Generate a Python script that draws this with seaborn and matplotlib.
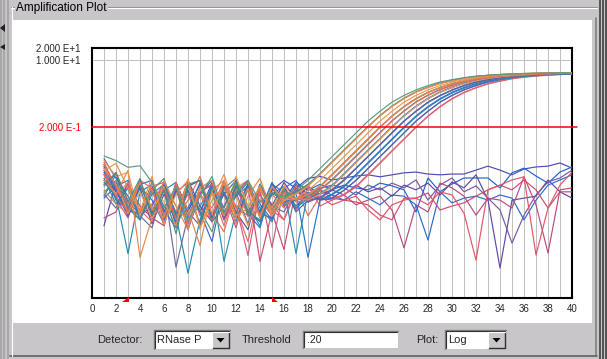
import numpy as np
import pandas as pd
import matplotlib
matplotlib.use("Agg")
import matplotlib.pyplot as plt
import seaborn as sns
from matplotlib.patches import Rectangle, Polygon
from matplotlib.lines import Line2D
from matplotlib.ticker import NullLocator, FixedLocator

# ---------------- data: log10(delta Rn) per cycle (cycles 1..40) ----------------
amp_01 = [-1.43, -1.55, -1.72, -1.68, -2.10, -2.75, -2.20, -3.10, -2.45, -1.95, -2.90, -2.35, -2.05, -2.60,
          -2.35, -2.50, -2.30, -2.05, -1.75, -1.45, -1.15, -0.85, -0.55, -0.30, -0.07, 0.10, 0.24, 0.35,
          0.44, 0.50, 0.55, 0.59, 0.61, 0.63, 0.645, 0.655, 0.66, 0.665, 0.67, 0.67]
amp_02 = [-1.80, -1.62, -2.25, -2.85, -1.95, -3.15, -2.40, -2.05, -3.25, -2.55, -1.90, -2.80, -2.25, -3.00, -2.20,
          -2.55, -2.40, -2.20, -1.90, -1.60, -1.30, -1.00, -0.70, -0.42, -0.18, 0.02, 0.18, 0.30, 0.40, 0.47,
          0.53, 0.57, 0.60, 0.62, 0.64, 0.65, 0.66, 0.665, 0.67, 0.675]
amp_03 = [-2.20, -1.85, -2.60, -2.00, -2.95, -2.30, -3.40, -2.15, -2.05, -3.10, -2.70, -2.10, -2.85, -3.05, -2.40,
          -2.45, -2.35, -2.15, -1.88, -1.58, -1.28, -0.98, -0.69, -0.41, -0.17, 0.03, 0.19, 0.31, 0.41, 0.48,
          0.54, 0.58, 0.61, 0.63, 0.645, 0.655, 0.66, 0.665, 0.67, 0.67]
amp_04 = [-1.55, -1.95, -1.85, -2.95, -2.15, -2.60, -3.20, -2.00, -3.30, -2.35, -2.95, -1.95, -2.70, -2.20, -2.95,
          -2.55, -2.50, -2.30, -2.05, -1.75, -1.45, -1.15, -0.85, -0.55, -0.30, -0.07, 0.10, 0.24, 0.35, 0.44,
          0.50, 0.55, 0.59, 0.61, 0.63, 0.645, 0.655, 0.66, 0.665, 0.67]
amp_05 = [-2.05, -2.40, -1.80, -4.00, -3.00, -2.05, -2.70, -3.30, -2.20, -2.90, -2.10, -3.15, -2.45, -2.00, -2.85,
          -2.40, -2.55, -2.40, -2.20, -1.90, -1.60, -1.30, -1.00, -0.70, -0.42, -0.18, 0.02, 0.18, 0.30, 0.40,
          0.47, 0.53, 0.57, 0.60, 0.62, 0.64, 0.65, 0.66, 0.665, 0.67]
amp_06 = [-1.65, -2.20, -2.65, -2.10, -2.80, -2.25, -3.05, -2.55, -1.95, -2.90, -3.35, -2.30, -2.10, -2.95, -2.20,
          -2.65, -2.50, -2.42, -2.22, -1.92, -1.62, -1.32, -1.02, -0.71, -0.43, -0.19, 0.01, 0.17, 0.29, 0.39,
          0.46, 0.52, 0.56, 0.59, 0.61, 0.63, 0.64, 0.65, 0.655, 0.66]
amp_07 = [-1.90, -2.45, -2.85, -2.05, -2.25, -3.20, -2.10, -2.95, -2.40, -3.10, -2.05, -2.75, -3.60, -2.25, -2.85,
          -2.35, -2.55, -2.50, -2.30, -2.05, -1.75, -1.45, -1.15, -0.85, -0.55, -0.30, -0.07, 0.10, 0.24, 0.35,
          0.44, 0.50, 0.55, 0.59, 0.61, 0.63, 0.645, 0.655, 0.66, 0.665]
amp_08 = [-2.35, -2.05, -2.70, -3.05, -2.30, -2.00, -2.95, -2.20, -2.80, -3.35, -2.25, -2.00, -2.95, -2.15, -2.80,
          -2.30, -2.50, -2.45, -2.28, -2.03, -1.73, -1.43, -1.13, -0.84, -0.54, -0.29, -0.06, 0.11, 0.25, 0.36,
          0.45, 0.51, 0.56, 0.60, 0.62, 0.64, 0.65, 0.66, 0.665, 0.67]
amp_09 = [-1.70, -2.30, -2.95, -2.15, -2.05, -2.80, -3.25, -2.20, -2.05, -2.95, -2.35, -3.10, -2.20, -2.85, -2.10,
          -2.65, -2.30, -2.55, -2.40, -2.20, -1.90, -1.60, -1.30, -1.00, -0.70, -0.42, -0.18, 0.02, 0.18, 0.30,
          0.40, 0.47, 0.53, 0.57, 0.60, 0.62, 0.64, 0.65, 0.66, 0.665]
amp_10 = [-2.10, -2.45, -3.90, -2.35, -2.15, -2.70, -2.95, -4.40, -3.05, -2.25, -2.90, -2.20, -2.70, -3.20, -2.15,
          -2.35, -2.75, -2.50, -2.38, -2.18, -1.88, -1.58, -1.28, -0.99, -0.69, -0.41, -0.17, 0.03, 0.19, 0.31,
          0.41, 0.48, 0.54, 0.58, 0.61, 0.63, 0.645, 0.655, 0.66, 0.665]
amp_11 = [-1.50, -2.00, -2.45, -2.90, -2.15, -3.05, -2.35, -2.10, -2.85, -3.60, -2.20, -2.80, -2.15, -2.95, -2.40,
          -2.20, -2.85, -2.55, -2.50, -2.30, -2.05, -1.75, -1.45, -1.15, -0.85, -0.55, -0.30, -0.07, 0.10, 0.24,
          0.35, 0.44, 0.50, 0.55, 0.59, 0.61, 0.63, 0.645, 0.655, 0.66]
amp_12 = [-2.40, -2.75, -2.10, -2.95, -3.25, -2.20, -4.25, -2.95, -2.25, -2.05, -2.85, -2.35, -3.15, -2.15, -2.70,
          -2.85, -2.25, -2.60, -2.48, -2.28, -2.03, -1.74, -1.44, -1.14, -0.84, -0.55, -0.30, -0.08, 0.09, 0.23,
          0.34, 0.43, 0.49, 0.54, 0.58, 0.60, 0.62, 0.635, 0.645, 0.65]
amp_13 = [-1.85, -2.55, -2.80, -2.05, -2.90, -2.25, -3.10, -2.75, -2.15, -2.95, -2.40, -2.05, -2.90, -3.25, -2.20,
          -2.70, -2.35, -4.00, -2.55, -2.40, -2.20, -1.90, -1.60, -1.30, -1.00, -0.70, -0.42, -0.18, 0.02, 0.18,
          0.30, 0.40, 0.47, 0.53, 0.57, 0.60, 0.62, 0.64, 0.65, 0.66]
amp_14 = [-2.45, -1.90, -2.75, -2.15, -2.95, -2.30, -2.10, -3.00, -2.70, -2.20, -4.10, -2.85, -2.15, -2.75, -3.10,
          -2.25, -3.90, -2.35, -2.55, -2.42, -2.22, -1.92, -1.62, -1.32, -1.02, -0.72, -0.44, -0.20, 0.00, 0.16,
          0.28, 0.38, 0.45, 0.51, 0.55, 0.58, 0.60, 0.62, 0.63, 0.64]
amp_15 = [-1.60, -2.25, -2.70, -2.95, -2.10, -2.90, -2.25, -3.15, -2.35, -2.15, -2.90, -2.70, -3.95, -2.30, -3.75,
          -2.20, -2.80, -2.35, -2.55, -2.50, -2.30, -2.05, -1.75, -1.45, -1.15, -0.85, -0.55, -0.30, -0.07, 0.10,
          0.24, 0.35, 0.44, 0.50, 0.55, 0.59, 0.61, 0.63, 0.645, 0.655]
amp_16 = [-1.75, -2.50, -2.20, -2.95, -2.65, -2.10, -3.05, -2.30, -2.85, -3.00, -2.15, -2.70, -2.95, -2.20, -2.80,
          -3.05, -2.35, -2.15, -2.70, -2.55, -2.40, -2.20, -1.90, -1.60, -1.30, -1.00, -0.70, -0.42, -0.18, 0.02,
          0.18, 0.30, 0.40, 0.47, 0.53, 0.57, 0.60, 0.62, 0.64, 0.65]
amp_17 = [-2.15, -1.85, -2.55, -2.80, -3.10, -2.20, -2.85, -2.10, -2.95, -2.35, -3.20, -2.25, -2.05, -2.90, -2.40,
          -2.75, -2.20, -2.95, -2.45, -2.50, -2.42, -2.22, -1.92, -1.62, -1.31, -1.01, -0.71, -0.43, -0.19, 0.01,
          0.17, 0.29, 0.39, 0.46, 0.52, 0.56, 0.59, 0.61, 0.63, 0.64]
amp_18 = [-2.30, -2.65, -2.90, -2.10, -2.75, -3.00, -2.20, -2.80, -3.70, -2.30, -2.05, -2.95, -2.75, -2.25, -2.85,
          -2.50, -2.38, -2.18, -1.89, -1.59, -1.29, -0.99, -0.69, -0.41, -0.17, 0.03, 0.19, 0.31, 0.41, 0.48,
          0.54, 0.58, 0.61, 0.63, 0.645, 0.655, 0.665, 0.67, 0.675, 0.68]
amp_19 = [-2.00, -2.65, -2.25, -3.05, -2.40, -2.15, -2.90, -2.30, -3.15, -2.25, -2.85, -2.45, -2.10, -3.00, -2.35,
          -2.60, -2.55, -2.40, -2.20, -1.90, -1.60, -1.30, -1.00, -0.70, -0.42, -0.18, 0.02, 0.18, 0.30, 0.40,
          0.47, 0.53, 0.57, 0.60, 0.62, 0.64, 0.65, 0.66, 0.665, 0.67]
amp_20 = [-1.75, -2.15, -2.85, -2.35, -3.00, -2.20, -2.70, -3.10, -2.25, -2.05, -2.90, -2.45, -3.20, -2.30, -2.75,
          -2.20, -2.50, -2.55, -2.40, -2.20, -1.90, -1.60, -1.30, -1.00, -0.70, -0.42, -0.18, 0.02, 0.18, 0.30,
          0.40, 0.47, 0.53, 0.57, 0.60, 0.62, 0.64, 0.65, 0.66, 0.67]
amp_21 = [-2.05, -2.30, -2.95, -2.20, -2.55, -3.15, -2.25, -2.85, -2.10, -3.00, -2.35, -2.90, -2.20, -2.65, -3.05,
          -2.25, -2.70, -2.40, -2.55, -2.50, -2.30, -2.05, -1.75, -1.45, -1.15, -0.85, -0.55, -0.30, -0.07, 0.10,
          0.24, 0.35, 0.44, 0.50, 0.55, 0.59, 0.61, 0.63, 0.645, 0.655]
amp_22 = [-1.90, -2.45, -2.10, -2.80, -2.35, -2.95, -2.15, -3.25, -2.40, -2.75, -2.05, -3.00, -2.30, -2.55, -2.95,
          -2.25, -2.60, -2.55, -2.50, -2.30, -2.05, -1.75, -1.45, -1.15, -0.85, -0.55, -0.30, -0.07, 0.10, 0.24,
          0.35, 0.44, 0.50, 0.55, 0.59, 0.61, 0.63, 0.645, 0.655, 0.66]

neg_01 = [-1.80, -2.35, -2.80, -2.10, -2.95, -2.30, -3.10, -2.15, -2.85, -2.25, -3.00, -2.40, -2.05, -2.90, -2.30,
          -2.05, -2.25, -2.00, -1.95, -2.04, -1.99, -1.94, -1.91, -1.96, -1.91, -1.86, -1.84, -1.89, -1.91, -1.89,
          -1.89, -1.79, -1.69, -1.79, -1.91, -1.76, -1.71, -1.69, -1.61, -1.74]
neg_02 = [-2.15, -1.90, -2.75, -3.05, -2.20, -2.85, -2.25, -3.30, -2.40, -2.05, -2.95, -2.20, -2.80, -3.10, -2.15,
          -2.55, -2.10, -2.30, -2.15, -2.29, -2.17, -2.24, -2.29, -2.12, -2.19, -2.29, -2.85, -1.99, -2.34, -2.14,
          -1.99, -1.99, -1.99, -2.24, -1.86, -1.74, -1.94, -2.12, -1.84, -1.71]
neg_03 = [-2.50, -2.20, -2.05, -2.95, -2.70, -2.15, -3.20, -2.30, -2.85, -2.10, -3.05, -2.45, -2.20, -2.90, -3.00,
          -2.25, -2.05, -2.60, -2.30, -2.42, -2.55, -2.34, -2.50, -2.67, -2.42, -2.45, -2.67, -3.56, -2.34, -2.62,
          -2.50, -2.45, -2.55, -2.42, -2.50, -3.05, -2.55, -2.17, -2.04, -1.91]
neg_04 = [-3.20, -2.10, -2.85, -2.25, -3.15, -2.40, -2.95, -2.05, -2.70, -3.10, -2.20, -2.85, -3.30, -2.15, -2.70,
          -2.10, -2.55, -2.20, -2.40, -2.29, -2.42, -2.17, -2.34, -2.24, -2.45, -2.17, -2.29, -2.12, -2.42, -2.09,
          -2.24, -1.91, -2.55, -4.27, -2.55, -2.50, -2.45, -2.04, -2.34, -2.50]
neg_05 = [-1.65, -2.20, -2.60, -2.90, -2.15, -3.05, -2.30, -2.85, -3.20, -2.15, -2.75, -2.05, -2.95, -2.80, -2.25,
          -2.65, -2.15, -2.40, -2.25, -2.17, -2.24, -2.42, -2.17, -2.29, -2.12, -2.24, -2.04, -2.55, -2.17, -1.99,
          -2.34, -2.19, -2.50, -2.80, -3.64, -2.93, -2.42, -2.09, -1.99, -1.79]
neg_06 = [-1.90, -2.50, -3.00, -2.15, -2.85, -2.30, -3.10, -2.20, -2.05, -2.95, -2.40, -3.25, -2.20, -4.10, -2.85,
          -3.80, -2.25, -2.55, -2.30, -2.50, -2.55, -2.60, -2.67, -2.93, -3.05, -2.50, -2.50, -2.37, -2.80, -2.70,
          -2.62, -2.45, -2.29, -2.17, -2.29, -2.04, -2.29, -2.75, -2.34, -2.34]
neg_07 = [-3.00, -2.85, -2.15, -2.70, -3.00, -3.20, -2.10, -2.80, -2.35, -2.15, -3.05, -2.25, -2.85, -2.40, -2.95,
          -2.20, -2.80, -2.25, -2.50, -2.55, -2.42, -2.67, -2.55, -2.45, -2.80, -3.76, -2.67, -2.85, -2.12, -2.24,
          -2.45, -2.93, -2.50, -2.55, -2.75, -1.96, -2.67, -3.89, -2.29, -2.24]
neg_08 = [-1.70, -2.30, -2.75, -2.95, -2.20, -2.10, -2.95, -2.40, -3.15, -2.25, -2.90, -2.15, -2.95, -2.30, -2.65,
          -3.05, -2.20, -2.60, -2.45, -2.67, -2.55, -2.45, -2.80, -3.05, -2.67, -2.55, -2.50, -2.67, -2.34, -2.42,
          -2.88, -4.07, -2.29, -2.17, -2.04, -1.96, -3.94, -2.75, -2.17, -1.84]

series = {
    "n1": (neg_01, "#4a4eb0"), "n2": (neg_02, "#1e64d2"), "n3": (neg_03, "#2a6ad0"),
    "n4": (neg_04, "#6048a0"), "n5": (neg_05, "#7a56a6"), "n6": (neg_06, "#d04a6c"),
    "n7": (neg_07, "#b84a7e"), "n8": (neg_08, "#e45464"),
    "a17": (amp_17, "#e46a64"), "a16": (amp_16, "#e0607a"), "a15": (amp_15, "#d5567a"),
    "a21": (amp_21, "#3468c4"), "a14": (amp_14, "#2090b4"), "a13": (amp_13, "#2d70c8"),
    "a12": (amp_12, "#6c6a9e"), "a22": (amp_22, "#e47460"), "a11": (amp_11, "#3a66c0"),
    "a10": (amp_10, "#1f8ab0"), "a09": (amp_09, "#2f6fc8"), "a20": (amp_20, "#e69a5a"),
    "a08": (amp_08, "#5a9080"), "a07": (amp_07, "#e0685e"), "a19": (amp_19, "#2a86a8"),
    "a06": (amp_06, "#e2705c"), "a05": (amp_05, "#e48848"), "a04": (amp_04, "#ec9650"),
    "a18": (amp_18, "#d88a52"), "a03": (amp_03, "#4e8a7c"), "a02": (amp_02, "#e8904a"),
    "a01": (amp_01, "#5b9a84"),
}
threshold = 0.2
baseline_start, baseline_end = 3, 15
ytick_vals = [20, 10, 0.2]
ytick_labels = ["2.000 E+1", "1.000 E+1", "2.000 E-1"]
xtick_vals = list(range(0, 41, 2))

rows = []
for name, (vals, col) in series.items():
    for i, v in enumerate(vals):
        rows.append({"cycle": i + 1, "dRn": 10 ** v, "well": name})
df = pd.DataFrame(rows)
pal = {k: c for k, (v, c) in series.items()}

# ---------------- figure ----------------
sns.set_style("white")
plt.rcParams["font.family"] = ["Liberation Sans", "DejaVu Sans"]

W, H = 607, 359
GREY = "#c8c6c8"
fig = plt.figure(figsize=(W / 100, H / 100), dpi=100, facecolor=GREY)


def rect(x0, y0, x1, y1, fc, ec="none", lw=0.0, z=1):
    fig.patches.append(Rectangle((x0 / W, 1 - y1 / H), (x1 - x0) / W, (y1 - y0) / H,
                                 transform=fig.transFigure, fc=fc, ec=ec, lw=lw, zorder=z))


def line(x0, y0, x1, y1, c, lw=1.0, z=2):
    fig.lines.append(Line2D([x0 / W, x1 / W], [1 - y0 / H, 1 - y1 / H], transform=fig.transFigure,
                            color=c, lw=lw, zorder=z))


def poly(pts, c, z=3):
    fig.patches.append(Polygon([(x / W, 1 - y / H) for x, y in pts], closed=True,
                               transform=fig.transFigure, fc=c, ec="none", zorder=z))


# window frame pieces
for xx, cc in [(1, "#a8a6a8"), (4, "#a8a6a8"), (8, "#a8a6a8")]:
    line(xx, 0, xx, H, cc, lw=1.5)
line(596, 18, 596, 356, "#808080", lw=1.2)
for xx in [599.5, 603, 606]:
    line(xx, 0, xx, H, "#404040", lw=1.2)
line(10, 356, 597, 356, "#606060", lw=1.2)
# group box etched line
line(11, 6.5, 597, 6.5, "#909090", lw=0.8)
line(11, 7.5, 597, 7.5, "white", lw=0.8)
line(11.5, 7, 11.5, 356, "white", lw=0.8)
# left arrows
poly([(0, 28), (5, 24), (5, 32)], "#202020")
poly([(0, 47), (5, 44), (5, 50)], "#202020")

# white plot panel
rect(13, 20, 592, 323, "white", z=1)

fig.text(16 / W, 1 - 8 / H, "Amplification Plot", fontsize=8.5, va="center", ha="left",
         color="black", bbox=dict(fc=GREY, ec="none", pad=1.0), zorder=5)

# axes
ax = fig.add_axes([92 / W, 1 - 298 / H, 480 / W, 250 / H])
ax.set_zorder(10)
ax.set_facecolor("white")
sns.lineplot(data=df, x="cycle", y="dRn", hue="well", palette=pal, estimator=None,
             legend=False, lw=0.85, ax=ax, zorder=3)
ax.set_yscale("log")
ax.set_xlim(0, 40)
ax.set_ylim(10 ** (np.log10(20) - 250 / 39.5), 20)
ax.set_xlabel("")
ax.set_ylabel("")

ax.xaxis.set_major_locator(FixedLocator(xtick_vals))
ax.xaxis.set_minor_locator(FixedLocator(list(range(0, 41))))
ax.grid(which="both", axis="x", color="#c0c0c0", lw=0.72, zorder=0)
ax.set_axisbelow(True)
ax.axhline(10, color="#c0c0c0", lw=0.72, zorder=0.5)
ax.set_xticklabels([str(v) for v in xtick_vals])
ax.tick_params(axis="x", which="both", length=0, pad=4, labelsize=7)

ax.yaxis.set_major_locator(FixedLocator(ytick_vals))
ax.yaxis.set_minor_locator(NullLocator())
ax.set_yticklabels(ytick_labels)
ax.tick_params(axis="y", which="major", length=6, width=1.0, direction="out", pad=2, labelsize=7)
ax.get_yticklabels()[2].set_color("#ff0000")
ax.yaxis.get_major_ticks()[2].tick1line.set_color("#ff0000")

ax.plot([0, 40.45], [threshold, threshold], color="#ff0000", lw=1.1,
        clip_on=False, zorder=4)

for s in ax.spines.values():
    s.set_color("black")
    s.set_linewidth(1.5)
    s.set_visible(True)

# baseline markers (figure pixel coords from data x)
def xpix(c):
    return 92 + c * 12

bs = xpix(baseline_start)
be = xpix(baseline_end)
poly([(bs - 6, 302), (bs + 0.5, 302), (bs + 0.5, 297)], "#ff0000", z=12)
poly([(be - 0.5, 297), (be - 0.5, 302), (be + 6, 302)], "#ff0000", z=12)

# ---------------- bottom controls ----------------
def sunken(x0, y0, x1, y1):
    rect(x0, y0, x1, y1, "white", z=2)
    line(x0, y0, x1, y0, "#808080", lw=1.0, z=3)
    line(x0, y0, x0, y1, "#808080", lw=1.0, z=3)
    line(x0 + 1, y0 + 1, x1 - 1, y0 + 1, "#303030", lw=0.8, z=3)
    line(x0 + 1, y0 + 1, x0 + 1, y1 - 1, "#303030", lw=0.8, z=3)


def button(x0, y0, x1, y1):
    rect(x0, y0, x1, y1, GREY, z=4)
    line(x0, y1, x1, y1, "#303030", lw=1.0, z=5)
    line(x1, y0, x1, y1, "#303030", lw=1.0, z=5)
    line(x0, y0, x1, y0, "white", lw=0.8, z=5)
    line(x0, y0, x0, y1, "white", lw=0.8, z=5)
    cx, cy = (x0 + x1) / 2, (y0 + y1) / 2
    poly([(cx - 4, cy - 2), (cx + 4, cy - 2), (cx, cy + 2.5)], "black", z=6)


ty = 1 - 340 / H
fig.text(97 / W, ty, "Detector:", fontsize=8, va="center", ha="left")
sunken(154, 330, 230, 349)
fig.text(157 / W, ty, "RNase P", fontsize=8, va="center", ha="left", zorder=6)
button(212, 332, 229, 348)
fig.text(242 / W, ty, "Threshold", fontsize=8, va="center", ha="left")
sunken(303, 331, 398, 348)
fig.text(307 / W, ty, ".20", fontsize=7.5, va="center", ha="left", zorder=6)
fig.text(416 / W, ty, "Plot:", fontsize=8, va="center", ha="left")
sunken(445, 330, 506, 349)
fig.text(448 / W, ty, "Log", fontsize=8, va="center", ha="left", zorder=6)
button(488, 332, 505, 348)

fig.savefig("out.png", dpi=100, facecolor=GREY)
